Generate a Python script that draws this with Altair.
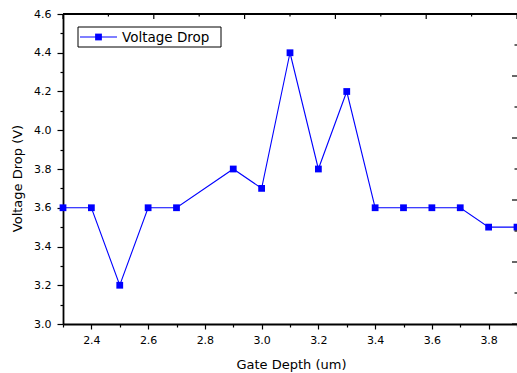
import altair as alt
import pandas as pd

# data
depth = [2.3, 2.4, 2.5, 2.6, 2.7, 2.9, 3.0, 3.1, 3.2, 3.3, 3.4, 3.5, 3.6, 3.7, 3.8, 3.9]
voltage = [3.6, 3.6, 3.2, 3.6, 3.6, 3.8, 3.7, 4.4, 3.8, 4.2, 3.6, 3.6, 3.6, 3.6, 3.5, 3.5]

x_ticks = [2.3, 2.4, 2.5, 2.6, 2.7, 2.8, 2.9, 3.0, 3.1, 3.2, 3.3, 3.4, 3.5, 3.6, 3.7, 3.8, 3.9]
y_ticks = [3.0, 3.1, 3.2, 3.3, 3.4, 3.5, 3.6, 3.7, 3.8, 3.9, 4.0, 4.1, 4.2, 4.3, 4.4, 4.5, 4.6]

# secondary (top / right) axis tick positions, in data units
top_major = [2.3, 2.62, 2.94, 3.26, 3.58, 3.9]
top_minor = [2.46, 2.78, 3.1, 3.42, 3.74]
right_major = [3.0, 3.32, 3.64, 3.96, 4.28, 4.6]
right_minor = [3.16, 3.48, 3.8, 4.12, 4.44]

legend_label = ["Voltage Drop"]

W, H = 454, 310
FONT = "DejaVu Sans"
BLUE = "#0000ff"

xs = alt.Scale(domain=[2.3, 3.9], nice=False, zero=False)
ys = alt.Scale(domain=[3.0, 4.6], nice=False, zero=False)

major_test = "round(datum.value*10) % 2 == 0"

x_axis = alt.Axis(
    values=x_ticks,
    labelExpr=f"{major_test} ? format(datum.value, '.1f') : ''",
    tickSize={"condition": {"test": major_test, "value": 5}, "value": 3},
    tickColor="black", tickWidth=1.2,
    domainColor="black", domainWidth=1.8,
    labelFont=FONT, labelFontSize=11, labelColor="black",
    labelPadding=5, labelFlush=False, labelOverlap=False,
    grid=False,
    title="Gate Depth (um)", titleFont=FONT, titleFontSize=13,
    titleFontWeight="normal", titleColor="black",
    titleX=228, titleY=40, titleAlign="center", titleBaseline="middle",
)
y_axis = alt.Axis(
    values=y_ticks,
    labelExpr=f"{major_test} ? format(datum.value, '.1f') : ''",
    tickSize={"condition": {"test": major_test, "value": 6}, "value": 3},
    tickColor="black", tickWidth=1.2,
    domainColor="black", domainWidth=1.8,
    labelFont=FONT, labelFontSize=11, labelColor="black",
    labelPadding=6, labelFlush=False, labelOverlap=False,
    grid=False,
    title="Voltage Drop (V)", titleFont=FONT, titleFontSize=13,
    titleFontWeight="normal", titleColor="black",
    titleX=-46, titleY=164, titleAngle=270, titleAlign="center", titleBaseline="middle",
)

df = pd.DataFrame({"depth": depth, "voltage": voltage})
one = pd.DataFrame({"label": legend_label})

line = alt.Chart(df).mark_line(color=BLUE, strokeWidth=1.1).encode(
    x=alt.X("depth:Q", scale=xs, axis=x_axis),
    y=alt.Y("voltage:Q", scale=ys, axis=y_axis),
)
pts = alt.Chart(df).mark_point(shape="square", filled=True, color=BLUE, size=46, opacity=1).encode(
    x=alt.X("depth:Q", scale=xs, axis=x_axis),
    y=alt.Y("voltage:Q", scale=ys, axis=y_axis),
)

top_line = alt.Chart(one).mark_rule(color="black", strokeWidth=1.8).encode(
    x=alt.value(0), x2=alt.value(W), y=alt.value(0)
)
tmaj = alt.Chart(pd.DataFrame({"depth": top_major})).mark_rule(color="black", strokeWidth=1.2).encode(
    x=alt.X("depth:Q", scale=xs, axis=x_axis), y=alt.value(0), y2=alt.value(5)
)
tmin = alt.Chart(pd.DataFrame({"depth": top_minor})).mark_rule(color="black", strokeWidth=1.2).encode(
    x=alt.X("depth:Q", scale=xs, axis=x_axis), y=alt.value(0), y2=alt.value(2.5)
)
rmaj = alt.Chart(pd.DataFrame({"voltage": right_major})).mark_rule(color="black", strokeWidth=1.2).encode(
    y=alt.Y("voltage:Q", scale=ys, axis=y_axis), x=alt.value(W - 5), x2=alt.value(W)
)
rmin = alt.Chart(pd.DataFrame({"voltage": right_minor})).mark_rule(color="black", strokeWidth=1.2).encode(
    y=alt.Y("voltage:Q", scale=ys, axis=y_axis), x=alt.value(W - 2.5), x2=alt.value(W)
)

# legend box
leg_box = alt.Chart(one).mark_rect(fill="white", stroke="black", strokeWidth=1).encode(
    x=alt.value(15), x2=alt.value(158), y=alt.value(13), y2=alt.value(33)
)
leg_line = alt.Chart(one).mark_rule(color=BLUE, strokeWidth=1.1).encode(
    x=alt.value(17), x2=alt.value(54), y=alt.value(23)
)
leg_pt = alt.Chart(one).mark_point(shape="square", filled=True, color=BLUE, size=46, opacity=1).encode(
    x=alt.value(35.5), y=alt.value(23)
)
leg_txt = alt.Chart(one).mark_text(
    align="left", baseline="middle", font=FONT, fontSize=13.5, color="black"
).encode(text="label:N", x=alt.value(59), y=alt.value(23.5))

chart = alt.layer(
    line, pts, top_line, tmaj, tmin, rmaj, rmin, leg_box, leg_line, leg_pt, leg_txt
).properties(
    width=W, height=H,
    autosize=alt.AutoSizeParams(type="none"),
    padding={"left": 63, "top": 14, "right": 0, "bottom": 49},
    background="white",
).configure_view(stroke=None)

chart.save("out.html", embed_options={"renderer": "svg", "actions": False})
